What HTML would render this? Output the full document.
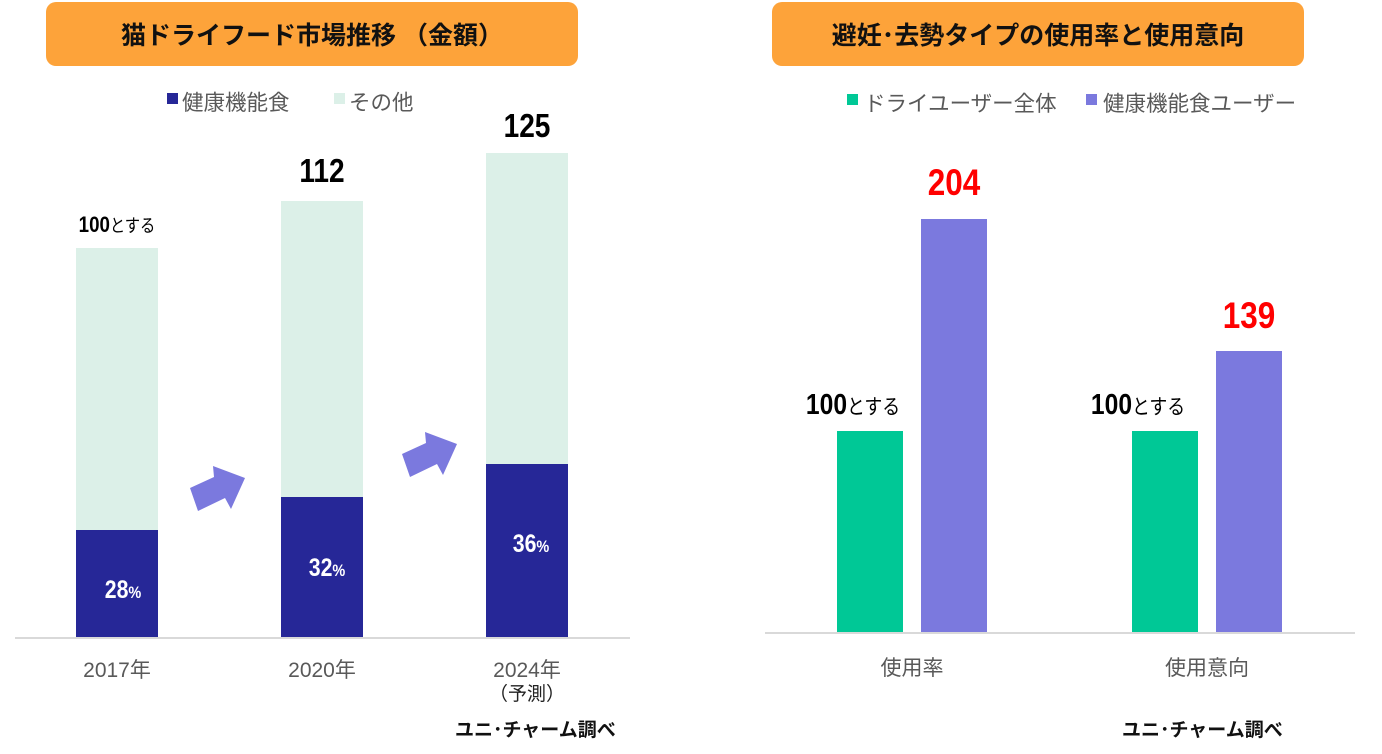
<!DOCTYPE html>
<html><head><meta charset="utf-8"><style>
body{margin:0;width:1382px;height:754px;background:#fff;position:relative;overflow:hidden;font-family:"Liberation Sans","Noto Sans CJK JP",sans-serif;}
div{position:absolute;}
.t{white-space:nowrap;}
.title{background:#FDA33A;border-radius:10px;height:64px;top:2px;width:532px;font-size:25px;font-weight:bold;color:#111;display:flex;align-items:center;justify-content:center;}
.leg{font-size:21.5px;color:#595959;top:86px;}
.sq{width:11px;height:11px;top:93px;}
.num{font-family:"Liberation Sans Narrow","Liberation Sans","Noto Sans CJK JP",sans-serif;font-weight:bold;text-align:center;width:160px;transform:scaleX(0.85);}
.cat{font-size:21px;color:#595959;text-align:center;width:140px;}
</style></head><body>
<div class="title" style="left:46px">猫ドライフード市場推移 （金額）</div>
<div class="title" style="left:772px">避妊･去勢タイプの使用率と使用意向</div>

<div class="sq" style="left:167px;background:#262797"></div>
<div class="leg t" style="left:182px">健康機能食</div>
<div class="sq" style="left:334px;background:#DCF0E8"></div>
<div class="leg t" style="left:349px">その他</div>

<div style="left:76px;top:248px;width:82px;height:282px;background:#DCF0E8"></div>
<div style="left:76px;top:530px;width:82px;height:108px;background:#262797"></div>
<div style="left:281px;top:201px;width:82px;height:296px;background:#DCF0E8"></div>
<div style="left:281px;top:497px;width:82px;height:141px;background:#262797"></div>
<div style="left:486px;top:153px;width:82px;height:311px;background:#DCF0E8"></div>
<div style="left:486px;top:464px;width:82px;height:174px;background:#262797"></div>
<div style="left:15px;top:637px;width:615px;height:2px;background:#d9d9d9"></div>

<div class="num t" style="left:37px;top:212px;font-size:22px;">100<span style="font-weight:normal;font-size:18px;font-family:'Noto Sans CJK JP',sans-serif">とする</span></div>
<div class="num t" style="left:242px;top:152px;font-size:33px;">112</div>
<div class="num t" style="left:447px;top:107px;font-size:33px;">125</div>
<div class="num t" style="left:43px;top:576px;font-size:25px;color:#fff">28<span style="font-size:17px">%</span></div>
<div class="num t" style="left:247px;top:554px;font-size:25px;color:#fff">32<span style="font-size:17px">%</span></div>
<div class="num t" style="left:451px;top:530px;font-size:25px;color:#fff">36<span style="font-size:17px">%</span></div>

<svg style="position:absolute;left:0;top:0" width="1382" height="754">
<polygon points="190,488 214,477 213,466 245,478 231,509 225,498 198,511" fill="#7B79DE"/>
<polygon points="402,454 426,443 425,432 457,444 443,475 437,464 410,477" fill="#7B79DE"/>
</svg>

<div class="cat t" style="left:47px;top:654px">2017年</div>
<div class="cat t" style="left:252px;top:654px">2020年</div>
<div class="cat t" style="left:457px;top:654px">2024年</div>
<div class="cat t" style="left:457px;top:679px;color:#222;font-size:19px">（予測）</div>
<div class="t" style="left:455px;top:715px;font-size:19px;color:#111;font-weight:bold">ユニ･チャーム調べ</div>

<div class="sq" style="left:847px;top:94px;background:#00C896"></div>
<div class="leg t" style="left:864px;top:87px">ドライユーザー全体</div>
<div class="sq" style="left:1086px;top:94px;background:#7B79DE"></div>
<div class="leg t" style="left:1103px;top:87px">健康機能食ユーザー</div>

<div style="left:837px;top:431px;width:66px;height:202px;background:#00C896"></div>
<div style="left:921px;top:219px;width:66px;height:414px;background:#7B79DE"></div>
<div style="left:1132px;top:431px;width:66px;height:202px;background:#00C896"></div>
<div style="left:1216px;top:351px;width:66px;height:282px;background:#7B79DE"></div>
<div style="left:765px;top:632px;width:590px;height:2px;background:#d9d9d9"></div>

<div class="num t" style="left:874px;top:162px;font-size:37px;color:#FF0000">204</div>
<div class="num t" style="left:1169px;top:295px;font-size:37px;color:#FF0000">139</div>
<div class="num t" style="left:773px;top:389px;font-size:29px;">100<span style="font-weight:normal;font-size:21px;font-family:'Noto Sans CJK JP',sans-serif">とする</span></div>
<div class="num t" style="left:1058px;top:389px;font-size:29px;">100<span style="font-weight:normal;font-size:21px;font-family:'Noto Sans CJK JP',sans-serif">とする</span></div>

<div class="cat t" style="left:842px;top:652px">使用率</div>
<div class="cat t" style="left:1137px;top:652px">使用意向</div>
<div class="t" style="left:1122px;top:715px;font-size:19px;color:#111;font-weight:bold">ユニ･チャーム調べ</div>
</body></html>
